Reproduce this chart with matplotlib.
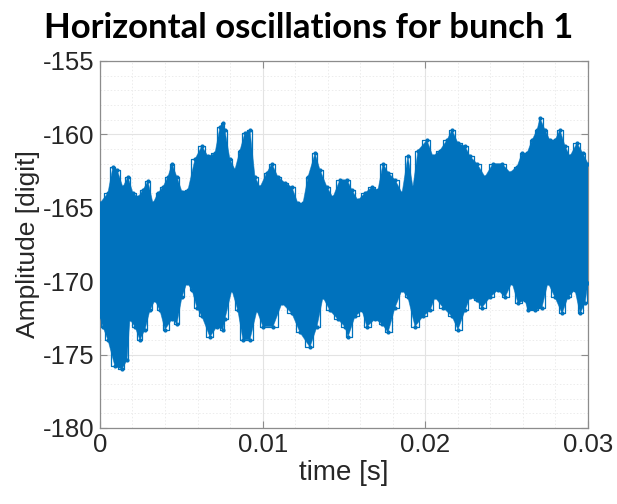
import numpy as np
import matplotlib
matplotlib.use("Agg")
import matplotlib.pyplot as plt

# upper edge of the oscillation band (time in ms, amplitude in digits)
t_upper_ms = [0.00, 0.49, 0.80, 1.05, 1.41, 1.72, 2.03, 2.34, 2.64, 2.95, 3.26, 3.57,
              3.87, 4.18, 4.43, 4.73, 5.04, 5.41, 5.84, 6.27, 6.64, 7.07, 7.38, 7.56,
              7.68, 7.99, 8.30, 8.61, 8.91, 9.22, 9.53, 9.84, 10.27, 10.57, 10.94, 11.37,
              11.80, 12.17, 12.48, 12.79, 13.22, 13.52, 13.96, 14.32, 14.75, 15.19, 15.49,
              15.86, 16.29, 16.72, 17.09, 17.40, 17.71, 18.14, 18.57, 18.93, 19.24, 19.55,
              20.10, 20.47, 20.90, 21.33, 21.64, 22.01, 22.44, 22.75, 23.18, 23.67, 24.16,
              24.71, 25.21, 25.64, 25.94, 26.25, 26.56, 26.87, 27.05, 27.36, 27.66, 27.97,
              28.28, 28.59, 28.89, 29.32, 29.69, 30.00]
upper = [-164.7, -164.0, -162.2, -162.4, -163.6, -162.9, -164.0, -164.3, -163.8, -163.2,
         -164.7, -164.0, -163.6, -162.9, -162.0, -162.9, -163.9, -163.8, -161.7, -160.8,
         -161.5, -161.3, -159.5, -159.2, -159.7, -161.7, -162.4, -161.1, -159.9, -159.7,
         -162.9, -163.6, -162.6, -162.0, -162.9, -163.3, -163.6, -164.7, -164.7, -162.9,
         -161.3, -162.4, -163.6, -164.3, -163.1, -163.1, -163.8, -164.5, -164.0, -163.6,
         -163.8, -162.0, -162.6, -163.1, -164.0, -161.5, -163.6, -161.1, -160.4, -161.5,
         -161.1, -160.4, -159.7, -160.6, -160.8, -161.5, -162.0, -162.9, -162.0, -162.0,
         -162.6, -162.2, -161.3, -161.3, -160.4, -159.7, -158.9, -159.7, -160.4, -160.4,
         -159.7, -160.8, -161.5, -160.6, -161.3, -162.0]

# lower edge of the oscillation band
t_lower_ms = [0.00, 0.18, 0.49, 0.92, 1.35, 1.66, 1.84, 2.15, 2.46, 2.77, 3.07, 3.38,
              3.69, 4.00, 4.43, 4.73, 5.04, 5.35, 5.66, 5.96, 6.27, 6.76, 7.19, 7.56,
              7.68, 8.11, 8.48, 8.79, 9.22, 9.65, 10.02, 10.64, 11.19, 11.80, 12.30, 12.91,
              13.34, 13.71, 14.14, 14.63, 15.06, 15.25, 15.68, 16.11, 16.41, 16.91, 17.34,
              17.71, 18.14, 18.57, 18.93, 19.37, 19.86, 20.29, 20.60, 21.09, 21.64, 22.01,
              22.44, 22.75, 23.18, 23.48, 23.98, 24.47, 24.90, 25.33, 25.70, 26.13, 26.31,
              26.74, 27.17, 27.54, 27.97, 28.41, 28.77, 29.20, 29.51, 29.82, 30.00]
lower = [-172.4, -173.1, -174.0, -175.8, -176.0, -175.4, -172.6, -173.1, -174.0, -173.3,
         -172.0, -171.3, -172.0, -173.3, -172.6, -172.9, -171.1, -170.1, -170.6, -171.8,
         -172.4, -173.8, -173.1, -173.3, -172.6, -170.6, -172.0, -174.0, -174.0, -172.0,
         -173.1, -173.1, -171.5, -172.2, -173.5, -174.5, -173.1, -171.1, -172.0, -172.6,
         -173.1, -173.8, -172.4, -172.0, -173.1, -172.6, -172.9, -173.5, -171.8, -170.6,
         -171.1, -173.1, -172.4, -172.0, -171.1, -171.8, -172.4, -173.3, -172.0, -171.1,
         -171.3, -171.8, -171.1, -170.6, -171.1, -170.1, -171.5, -171.3, -172.0, -172.0,
         -171.8, -170.1, -171.1, -172.2, -171.1, -170.6, -172.2, -171.5, -170.1]

x_ticks = [0, 0.01, 0.02, 0.03]
x_labels = ['0', '0.01', '0.02', '0.03']
y_ticks = [-180, -175, -170, -165, -160, -155]

plt.rcParams['axes.unicode_minus'] = False

blue = '#0072BD'
t_up = np.array(t_upper_ms) / 1000
t_lo = np.array(t_lower_ms) / 1000

fig = plt.figure(figsize=(6.17, 5.04), dpi=100)
ax = fig.add_axes([0.162, 0.151, 0.791, 0.728])

# band body
ax.fill(np.concatenate([t_up, t_lo[::-1]]), np.concatenate([upper, lower[::-1]]),
        color=blue, lw=0, zorder=3)
# ragged edges with sample markers
ax.plot(t_up, upper, color=blue, lw=0.9, marker='.', ms=4, drawstyle='steps-mid', zorder=4)
ax.plot(t_lo, lower, color=blue, lw=0.9, marker='.', ms=4, drawstyle='steps-mid', zorder=4)
ax.plot(t_up, upper, color=blue, lw=0.6, alpha=0.6, zorder=4)
ax.plot(t_lo, lower, color=blue, lw=0.6, alpha=0.6, zorder=4)

ax.set_xlim(0, 0.03)
ax.set_ylim(-180, -155)
ax.set_xticks(x_ticks)
ax.set_xticklabels(x_labels)
ax.set_yticks(y_ticks)
ax.set_xticks(np.arange(0, 0.0301, 0.002), minor=True)
ax.set_yticks(np.arange(-180, -154, 1), minor=True)

ax.grid(True, which='major', color='#e3e3e3', lw=0.8, zorder=0)
ax.grid(True, which='minor', color='#ececec', lw=0.7, ls=(0, (1.5, 2)), zorder=0)
ax.set_axisbelow(True)

ax.tick_params(which='major', direction='in', length=5, width=0.8, color='#8c8c8c',
               top=True, right=True, labelsize=18.5, labelcolor='#262626', pad=4)
ax.tick_params(which='minor', length=0)
for s in ax.spines.values():
    s.set_color('#8c8c8c')
    s.set_linewidth(0.9)
for lab in ax.get_xticklabels() + ax.get_yticklabels():
    lab.set_family('Liberation Sans')

ax.set_xlabel('time [s]', fontsize=20, family='Liberation Sans', color='#262626', labelpad=2)
ax.set_ylabel('Amplitude [digit]', fontsize=19, family='Liberation Sans', color='#262626',
              labelpad=2)
fig.text(0.5, 0.925, 'Horizontal oscillations for bunch 1', ha='center', va='baseline',
         fontsize=25, fontweight='bold', family='Lato', color='black')

fig.savefig('out.png', dpi=100)
